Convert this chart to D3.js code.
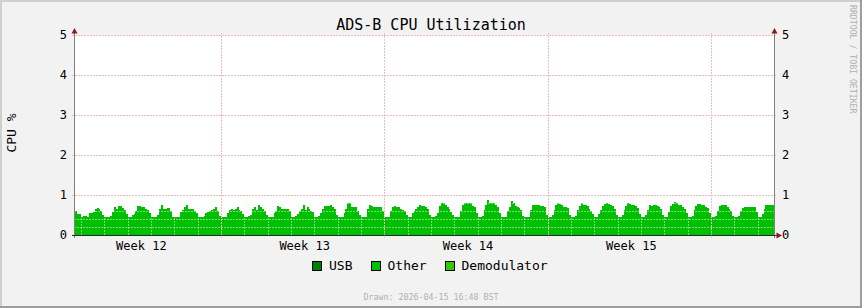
<!DOCTYPE html>
<html>
<head>
<meta charset="utf-8">
<script src="https://cdn.jsdelivr.net/npm/d3@7"></script>
<style>
  html, body { margin: 0; padding: 0; background: #f2f2f2; }
  svg { display: block; }
  text { font-family: "DejaVu Sans Mono", monospace; }
</style>
</head>
<body>
<div class="cpu-container"></div>
<script>
// graph window (local time, treated as utc so no dst jump)
const startTime = Date.UTC(2026, 2, 16, 16, 48);
const endTime = Date.UTC(2026, 3, 15, 16, 48);
const firstSample = Date.UTC(2026, 2, 16, 16, 0);
const stepHours = 2;

const seriesNames = ["USB", "Other", "Demodulator"];
const seriesColors = ["#007f00", "#00bf00", "#33cc00"];

// cpu % per 2h sample, one row per day
const usb = [];          // nothing recorded
const demodulator = [];  // nothing recorded
const other = [
  0.60, 0.60, 0.53, 0.52,                                               // mar 16 (from 16:00)
  0.44, 0.47, 0.47, 0.46, 0.54, 0.55, 0.58, 0.64, 0.68, 0.64, 0.60, 0.50, // mar 17
  0.44, 0.44, 0.44, 0.47, 0.58, 0.69, 0.66, 0.72, 0.72, 0.67, 0.62, 0.52, // mar 18
  0.44, 0.44, 0.50, 0.52, 0.60, 0.72, 0.72, 0.69, 0.69, 0.66, 0.62, 0.56, // mar 19
  0.44, 0.44, 0.46, 0.50, 0.64, 0.76, 0.65, 0.66, 0.68, 0.67, 0.60, 0.46, // mar 20
  0.44, 0.44, 0.44, 0.58, 0.62, 0.70, 0.76, 0.66, 0.65, 0.64, 0.61, 0.54, // mar 21
  0.44, 0.44, 0.44, 0.48, 0.55, 0.58, 0.60, 0.63, 0.65, 0.69, 0.60, 0.47, // mar 22
  0.44, 0.44, 0.44, 0.55, 0.62, 0.66, 0.63, 0.66, 0.69, 0.62, 0.59, 0.52, // mar 23
  0.44, 0.44, 0.47, 0.50, 0.65, 0.69, 0.62, 0.75, 0.70, 0.66, 0.60, 0.50, // mar 24
  0.46, 0.46, 0.46, 0.54, 0.61, 0.72, 0.70, 0.64, 0.66, 0.66, 0.66, 0.60, // mar 25
  0.44, 0.44, 0.47, 0.52, 0.61, 0.66, 0.75, 0.63, 0.71, 0.65, 0.61, 0.58, // mar 26
  0.45, 0.45, 0.47, 0.56, 0.66, 0.72, 0.73, 0.73, 0.76, 0.69, 0.65, 0.50, // mar 27
  0.44, 0.44, 0.45, 0.56, 0.66, 0.81, 0.79, 0.70, 0.69, 0.69, 0.61, 0.50, // mar 28
  0.45, 0.45, 0.46, 0.66, 0.74, 0.72, 0.70, 0.70, 0.69, 0.69, 0.70, 0.59, // mar 29
  0.45, 0.45, 0.46, 0.60, 0.69, 0.72, 0.69, 0.69, 0.66, 0.63, 0.60, 0.50, // mar 30
  0.45, 0.45, 0.55, 0.60, 0.66, 0.70, 0.74, 0.72, 0.72, 0.70, 0.64, 0.50, // mar 31
  0.46, 0.46, 0.47, 0.55, 0.72, 0.79, 0.80, 0.76, 0.70, 0.66, 0.58, 0.50, // apr 1
  0.44, 0.44, 0.46, 0.60, 0.75, 0.79, 0.80, 0.79, 0.80, 0.73, 0.70, 0.55, // apr 2
  0.45, 0.45, 0.47, 0.62, 0.75, 0.87, 0.80, 0.80, 0.79, 0.76, 0.70, 0.56, // apr 3
  0.44, 0.44, 0.46, 0.59, 0.70, 0.84, 0.79, 0.73, 0.70, 0.67, 0.62, 0.48, // apr 4
  0.44, 0.44, 0.45, 0.62, 0.75, 0.75, 0.74, 0.74, 0.73, 0.72, 0.70, 0.50, // apr 5
  0.44, 0.44, 0.50, 0.62, 0.76, 0.79, 0.77, 0.75, 0.71, 0.69, 0.68, 0.50, // apr 6
  0.45, 0.45, 0.48, 0.63, 0.72, 0.79, 0.76, 0.74, 0.72, 0.66, 0.60, 0.52, // apr 7
  0.44, 0.46, 0.52, 0.62, 0.73, 0.77, 0.80, 0.78, 0.74, 0.72, 0.66, 0.50, // apr 8
  0.45, 0.45, 0.50, 0.63, 0.72, 0.79, 0.77, 0.76, 0.74, 0.72, 0.68, 0.52, // apr 9
  0.45, 0.45, 0.50, 0.62, 0.75, 0.73, 0.74, 0.75, 0.73, 0.69, 0.66, 0.50, // apr 10
  0.45, 0.46, 0.58, 0.72, 0.78, 0.83, 0.80, 0.75, 0.74, 0.70, 0.66, 0.56, // apr 11
  0.44, 0.44, 0.48, 0.62, 0.72, 0.77, 0.77, 0.75, 0.74, 0.71, 0.68, 0.55, // apr 12
  0.45, 0.45, 0.47, 0.60, 0.72, 0.75, 0.76, 0.75, 0.70, 0.64, 0.60, 0.48, // apr 13
  0.45, 0.45, 0.47, 0.60, 0.68, 0.70, 0.70, 0.70, 0.70, 0.70, 0.70, 0.58, // apr 14
  0.44, 0.44, 0.52, 0.66, 0.74, 0.76, 0.75, 0.76, 0.76                    // apr 15
];

const yMajor = [0, 1, 2, 3, 4, 5];
const yMinor = [0.2, 0.4, 0.6, 0.8, 1.2, 1.4, 1.6, 1.8, 2.2, 2.4, 2.6, 2.8, 3.2, 3.4, 3.6, 3.8, 4.2, 4.4, 4.6, 4.8];

const titleText = "ADS-B CPU Utilization";
const yLabel = "CPU %";
const drawnText = "Drawn: 2026-04-15 16:48 BST";
const watermark = "RRDTOOL / TOBI OETIKER";

const W = 862, H = 308;
const plot = { left: 74, right: 774, top: 35, bottom: 235 };

const svg = d3.select(".cpu-container")
  .append("svg")
  .attr("width", W)
  .attr("height", H);

// background + 3d frame
svg.append("rect").attr("width", W).attr("height", H).attr("fill", "#f2f2f2");
svg.append("rect").attr("x", 0).attr("y", 0).attr("width", W).attr("height", 2).attr("fill", "#cfcfcf");
svg.append("rect").attr("x", 0).attr("y", 0).attr("width", 2).attr("height", H).attr("fill", "#cfcfcf");
svg.append("rect").attr("x", W - 2).attr("y", 0).attr("width", 2).attr("height", H).attr("fill", "#9e9e9e");
svg.append("rect").attr("x", 0).attr("y", H - 2).attr("width", W).attr("height", 2).attr("fill", "#9e9e9e");

svg.append("rect")
  .attr("x", plot.left).attr("y", plot.top)
  .attr("width", plot.right - plot.left).attr("height", plot.bottom - plot.top)
  .attr("fill", "#ffffff");

var x = d3.scaleUtc().domain([startTime, endTime]).range([plot.left, plot.right]);
var y = d3.scaleLinear().domain([0, 5]).range([plot.bottom, plot.top]);

// stack the three series (missing = 0)
const stepMs = stepHours * 3600 * 1000;
const rows = other.map((v, i) => {
  const t = firstSample + i * stepMs;
  const u = usb[i] || 0, o = v || 0, d = demodulator[i] || 0;
  return { t, y0: [0, u, u + o], y1: [u, u + o, u + o + d] };
});
// closing point so the last step has width
rows.push({ t: firstSample + other.length * stepMs, y0: rows[rows.length - 1].y0, y1: rows[rows.length - 1].y1 });

svg.append("clipPath").attr("id", "plotclip")
  .append("rect")
  .attr("x", plot.left).attr("y", plot.top)
  .attr("width", plot.right - plot.left).attr("height", plot.bottom - plot.top);

const gData = svg.append("g").attr("clip-path", "url(#plotclip)");
seriesNames.forEach((name, k) => {
  const area = d3.area()
    .x(d => x(d.t))
    .y0(d => y(d.y0[k]))
    .y1(d => y(d.y1[k]))
    .curve(d3.curveStepAfter);
  gData.append("path")
    .datum(rows)
    .attr("d", area)
    .attr("fill", seriesColors[k])
    .attr("shape-rendering", "crispEdges");
});

// grid
const days = d3.utcDay.range(startTime, endTime);
const mondays = d3.utcMonday.range(startTime, endTime);
const isMonday = d => d.getUTCDay() === 1;

const gGrid = svg.append("g").attr("shape-rendering", "crispEdges");
gGrid.selectAll(".minor-x")
  .data(days.filter(d => !isMonday(d)))
  .enter().append("line")
  .attr("x1", d => Math.round(x(d)) + 0.5).attr("x2", d => Math.round(x(d)) + 0.5)
  .attr("y1", plot.top).attr("y2", plot.bottom)
  .attr("stroke", "rgba(255,255,255,0.45)")
  .attr("stroke-dasharray", "2,1");
gGrid.selectAll(".minor-y")
  .data(yMinor)
  .enter().append("line")
  .attr("x1", plot.left).attr("x2", plot.right)
  .attr("y1", d => Math.round(y(d)) + 0.5).attr("y2", d => Math.round(y(d)) + 0.5)
  .attr("stroke", "rgba(255,255,255,0.45)")
  .attr("stroke-dasharray", "2,1");
gGrid.selectAll(".major-y")
  .data(yMajor.filter(d => d > 0))
  .enter().append("line")
  .attr("x1", plot.left - 2).attr("x2", plot.right + 2)
  .attr("y1", d => Math.round(y(d)) + 0.5).attr("y2", d => Math.round(y(d)) + 0.5)
  .attr("stroke", "#efbcbc")
  .attr("stroke-dasharray", "2,1");
gGrid.selectAll(".major-x")
  .data(mondays)
  .enter().append("line")
  .attr("x1", d => Math.round(x(d)) + 0.5).attr("x2", d => Math.round(x(d)) + 0.5)
  .attr("y1", plot.top - 2).attr("y2", plot.bottom + 3)
  .attr("stroke", "#efbcbc")
  .attr("stroke-dasharray", "2,1");

// axes
const gAxis = svg.append("g").attr("shape-rendering", "crispEdges");
gAxis.append("line")
  .attr("x1", plot.left + 0.5).attr("x2", plot.left + 0.5)
  .attr("y1", plot.top - 3).attr("y2", plot.bottom + 3)
  .attr("stroke", "#808080");
gAxis.append("line")
  .attr("x1", plot.right + 0.5).attr("x2", plot.right + 0.5)
  .attr("y1", plot.top - 3).attr("y2", plot.bottom + 3)
  .attr("stroke", "#808080");
gAxis.append("line")
  .attr("x1", plot.left - 2).attr("x2", plot.right + 4)
  .attr("y1", plot.bottom + 0.5).attr("y2", plot.bottom + 0.5)
  .attr("stroke", "#2a2a2a");

const arrowColor = "#8b1a1a";
[plot.left, plot.right].forEach(ax => {
  svg.append("path")
    .attr("d", `M${ax + 0.5},${plot.top - 7} L${ax + 3.5},${plot.top - 1.5} L${ax - 2.5},${plot.top - 1.5} Z`)
    .attr("fill", arrowColor);
});
svg.append("path")
  .attr("d", `M${plot.right + 8},${plot.bottom + 0.5} L${plot.right + 2.5},${plot.bottom - 2.5} L${plot.right + 2.5},${plot.bottom + 3.5} Z`)
  .attr("fill", arrowColor);

// y labels both sides
svg.selectAll(".ylab-l")
  .data(yMajor)
  .enter().append("text")
  .attr("x", plot.left - 7)
  .attr("y", d => y(d))
  .attr("dy", "0.36em")
  .attr("text-anchor", "end")
  .attr("font-size", "12px")
  .attr("fill", "#000")
  .text(d => d);
svg.selectAll(".ylab-r")
  .data(yMajor)
  .enter().append("text")
  .attr("x", plot.right + 8)
  .attr("y", d => y(d))
  .attr("dy", "0.36em")
  .attr("text-anchor", "start")
  .attr("font-size", "12px")
  .attr("fill", "#000")
  .text(d => d);

// week labels, centred mid-week
const weekFmt = d3.utcFormat("%V");
const weekStarts = d3.utcMonday.range(startTime - 7 * 864e5, endTime);
const weekLabels = weekStarts
  .map(d => ({ d, cx: x(d.getTime() + 3.5 * 864e5) + 2 }))
  .filter(w => w.cx > plot.left && w.cx < plot.right);
svg.selectAll(".xlab")
  .data(weekLabels)
  .enter().append("text")
  .attr("x", w => w.cx)
  .attr("y", plot.bottom + 15)
  .attr("text-anchor", "middle")
  .attr("font-size", "12px")
  .attr("fill", "#000")
  .text(w => "Week " + weekFmt(w.d));

// title, y label
svg.append("text")
  .attr("x", W / 2).attr("y", 30)
  .attr("text-anchor", "middle")
  .attr("font-size", "15px")
  .attr("fill", "#000")
  .text(titleText);

svg.append("text")
  .attr("transform", "translate(16,133) rotate(-90)")
  .attr("text-anchor", "middle")
  .attr("font-size", "13px")
  .attr("fill", "#000")
  .text(yLabel);

// legend
const legendX = [312, 370.5, 444.5];
const gLeg = svg.append("g");
seriesNames.forEach((name, k) => {
  gLeg.append("rect")
    .attr("x", legendX[k] + 0.5).attr("y", 261.5)
    .attr("width", 9).attr("height", 9)
    .attr("fill", seriesColors[k])
    .attr("stroke", "#000")
    .attr("shape-rendering", "crispEdges");
  gLeg.append("text")
    .attr("x", legendX[k] + 17)
    .attr("y", 270)
    .attr("font-size", "13px")
    .attr("fill", "#000")
    .text(name);
});

// footer + watermark
svg.append("text")
  .attr("x", W / 2).attr("y", 300)
  .attr("text-anchor", "middle")
  .attr("font-size", "8.3px")
  .attr("fill", "#b0b0b0")
  .text(drawnText);

svg.append("text")
  .attr("transform", "translate(849.5,5) rotate(90)")
  .attr("font-size", "8.2px")
  .attr("fill", "#b0b0b0")
  .text(watermark);
</script>
</body>
</html>
